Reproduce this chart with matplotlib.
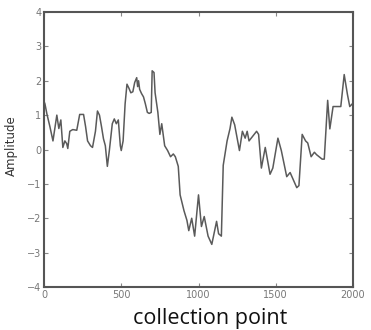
import numpy as np
import matplotlib
matplotlib.use("Agg")
import matplotlib.pyplot as plt

# traced signal: collection point index vs amplitude
x_pts = [0, 6, 19, 38, 58, 83, 96, 109, 122, 135, 147, 154, 167, 186, 212, 231, 256,
         269, 282, 301, 314, 333, 346, 359, 372, 385, 397, 410, 423, 442, 455, 468, 481,
         494, 500, 512, 525, 537, 550, 562, 575, 587, 600, 606, 612, 619, 631, 644, 656,
         669, 681, 694, 700, 712, 719, 737, 750, 762, 781, 800, 819, 837, 850, 869, 881,
         906, 925, 937, 956, 975, 1000, 1019, 1037, 1062, 1086, 1117, 1130, 1148, 1160,
         1185, 1204, 1216, 1234, 1265, 1284, 1302, 1315, 1327, 1376, 1389, 1407, 1432,
         1463, 1481, 1514, 1536, 1571, 1593, 1636, 1650, 1671, 1693, 1707, 1729, 1750,
         1764, 1800, 1814, 1836, 1850, 1871, 1921, 1943, 1964, 1979, 2000]
amplitude = [1.40, 1.33, 1.03, 0.67, 0.25, 1.00, 0.61, 0.86, 0.06, 0.25, 0.17, 0.03, 0.53,
             0.58, 0.56, 1.02, 1.02, 0.67, 0.25, 0.11, 0.06, 0.53, 1.12, 1.00, 0.67, 0.31,
             0.11, -0.49, -0.03, 0.75, 0.89, 0.75, 0.86, 0.11, -0.03, 0.25, 1.33, 1.90,
             1.78, 1.65, 1.68, 1.95, 2.09, 1.83, 2.00, 1.75, 1.63, 1.53, 1.33, 1.08, 1.05,
             1.08, 2.29, 2.24, 1.65, 1.08, 0.44, 0.75, 0.11, -0.03, -0.21, -0.13, -0.21,
             -0.49, -1.32, -1.78, -2.06, -2.36, -2.00, -2.52, -1.32, -2.24, -1.95, -2.52,
             -2.76, -2.09, -2.45, -2.52, -0.46, 0.25, 0.61, 0.94, 0.72, -0.03, 0.53, 0.33,
             0.53, 0.25, 0.53, 0.44, -0.54, 0.06, -0.72, -0.54, 0.33, -0.03, -0.79, -0.67,
             -1.11, -1.05, 0.44, 0.25, 0.19, -0.21, -0.08, -0.15, -0.28, -0.28, 1.43, 0.60,
             1.25, 1.25, 2.18, 1.60, 1.25, 1.35]

x_ticks = [0, 500, 1000, 1500, 2000]
y_ticks = [-4, -3, -2, -1, 0, 1, 2, 3, 4]

fig = plt.figure(figsize=(3.71, 3.30), dpi=100)
ax = fig.add_axes([0.1186, 0.1303, 0.8329, 0.8333])
ax.plot(x_pts, amplitude, color="#5a5a5a", lw=1.1)

ax.set_xlim(0, 2000)
ax.set_ylim(-4, 4)
ax.set_xticks(x_ticks)
ax.set_yticks(y_ticks)
ax.tick_params(direction="in", length=3, width=0.8, colors="#888888",
               labelcolor="#777777", labelsize=7, top=True, right=True, pad=2)
for s in ax.spines.values():
    s.set_color("#555555")
    s.set_linewidth(1.5)

ax.set_ylabel("Amplitude", fontsize=8.5, color="#333333")
ax.yaxis.set_label_coords(-0.084, 0.513)
ax.set_xlabel("collection point", fontsize=15.5, family="Open Sans", color="#111111")
ax.xaxis.set_label_coords(0.537, -0.075)

fig.savefig("out.png", dpi=100)
